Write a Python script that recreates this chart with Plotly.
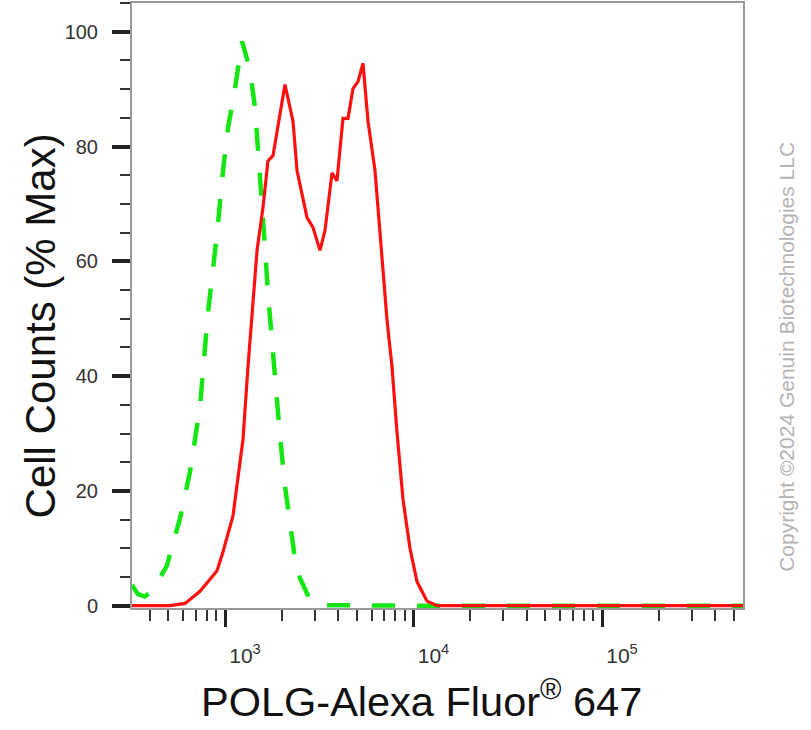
import plotly.graph_objects as go

# ---- data ----
red_x = [321, 400, 511, 614, 737, 907, 976, 1103, 1246, 1324, 1408, 1479, 1591, 1690, 1797,
         2080, 2295, 2410, 2723, 2930, 3191, 3393, 3695, 3926, 4226, 4494, 4775, 5076, 5396,
         5736, 6248, 6808, 7235, 7691, 8176, 8790, 9575, 10437, 11793, 13330, 20000, 50000,
         100000, 200000, 560000]
red_y = [0, 0, 0, 0.4, 2.5, 6.1, 9.4, 15.7, 29, 41.6, 52, 61.9, 69.4, 77.5, 78.4,
         90.8, 84.4, 75.8, 67.6, 65.9, 61.9, 65.4, 75.4, 74.0, 84.9, 84.9, 90.1, 91.3, 94.5,
         84.4, 75.8, 61.4, 49.8, 41.6, 30.2, 18.6, 10, 4.2, 0.8, 0, 0, 0,
         0, 0, 0]

green_x = [321, 345, 376, 415, 492, 577, 652, 737, 812, 907, 976, 1037, 1130, 1231, 1308,
           1390, 1443, 1496, 1571, 1630, 1690, 1733, 1841, 1958, 2080, 2212, 2350, 2500,
           2825, 3191, 5000, 10000, 50000, 200000, 560000]
green_y = [3.6, 2.0, 1.6, 2.7, 7, 15.2, 23.3, 34.7, 51, 64.8, 75.8, 83.2, 90.1, 98.3, 95.3,
           90.8, 86.7, 79.7, 71.8, 62.4, 54.5, 49.8, 39.4, 29.5, 20.9, 13.9, 8.2, 4.8,
           1.0, 0.1, 0, 0, 0, 0, 0]

x_major = [1e3, 1e4, 1e5]
x_major_text = ["10<sup>3</sup>", "10<sup>4</sup>", "10<sup>5</sup>"]
x_minor = [400, 500, 600, 700, 800, 900,
           2000, 3000, 4000, 5000, 6000, 7000, 8000, 9000,
           20000, 30000, 40000, 50000, 60000, 70000, 80000, 90000,
           200000, 300000, 400000, 500000]
y_major = [0, 20, 40, 60, 80, 100]

x_title = "POLG-Alexa Fluor<sup>®</sup> 647"
y_title = "Cell Counts (% Max)"
watermark = "Copyright ©2024 Genuin Biotechnologies LLC"

fig = go.Figure()
fig.add_trace(go.Scatter(x=green_x, y=green_y, mode="lines",
                         line=dict(color="#14e614", width=4.5, dash="23px,22px"),
                         showlegend=False, hoverinfo="skip"))
fig.add_trace(go.Scatter(x=red_x, y=red_y, mode="lines",
                         line=dict(color="#ff1010", width=3.2),
                         showlegend=False, hoverinfo="skip"))

axis_font = "Liberation Sans, Arial, sans-serif"

fig.update_layout(
    width=811, height=730,
    margin=dict(l=132, r=68, t=1, b=122),
    paper_bgcolor="white", plot_bgcolor="white",
    font=dict(family=axis_font, color="#222"),
    xaxis=dict(
        type="log", range=[2.5066, 5.748],
        showgrid=False, zeroline=False,
        showline=True, linecolor="#9a9a9a", linewidth=2, mirror=True,
        layer="below traces",
        tickmode="array", tickvals=x_major, ticktext=x_major_text,
        ticks="outside", ticklen=17, tickwidth=3, tickcolor="#222",
        tickfont=dict(size=21, color="#333"),
        ticklabelshift=20, ticklabelstandoff=11,
        minor=dict(tickmode="array", tickvals=x_minor, ticks="outside",
                   ticklen=11, tickwidth=2, tickcolor="#333"),
    ),
    yaxis=dict(
        range=[-0.4, 105.0],
        showgrid=False, zeroline=False,
        showline=True, linecolor="#9a9a9a", linewidth=2, mirror=True,
        layer="below traces",
        tickmode="array", tickvals=y_major, ticktext=[str(v) for v in y_major],
        ticks="outside", ticklen=18, tickwidth=3.5, tickcolor="#222",
        tickfont=dict(size=20, color="#333"),
        ticklabelstandoff=10,
        minor=dict(dtick=5, ticks="outside", ticklen=10, tickwidth=2, tickcolor="#333"),
    ),
    annotations=[
        dict(text=x_title, xref="paper", yref="paper", x=0.4746, y=-0.150,
             xanchor="center", yanchor="middle", showarrow=False,
             font=dict(size=41.5, color="#111", family=axis_font)),
        dict(text=y_title, xref="paper", yref="paper", x=-0.149, y=0.467,
             xanchor="center", yanchor="middle", showarrow=False, textangle=-90,
             font=dict(size=42, color="#111", family=axis_font)),
        dict(text=watermark, xref="paper", yref="paper", x=(787 - 132) / 611,
             y=(608 - 356) / 607, xanchor="center", yanchor="middle",
             showarrow=False, textangle=-90,
             font=dict(size=21, color="#b4b4b4", family=axis_font)),
    ],
)

fig.write_html("out.html",
               config={"displayModeBar": False},
               post_script="document.body.style.margin='0';document.body.style.overflow='hidden';")
